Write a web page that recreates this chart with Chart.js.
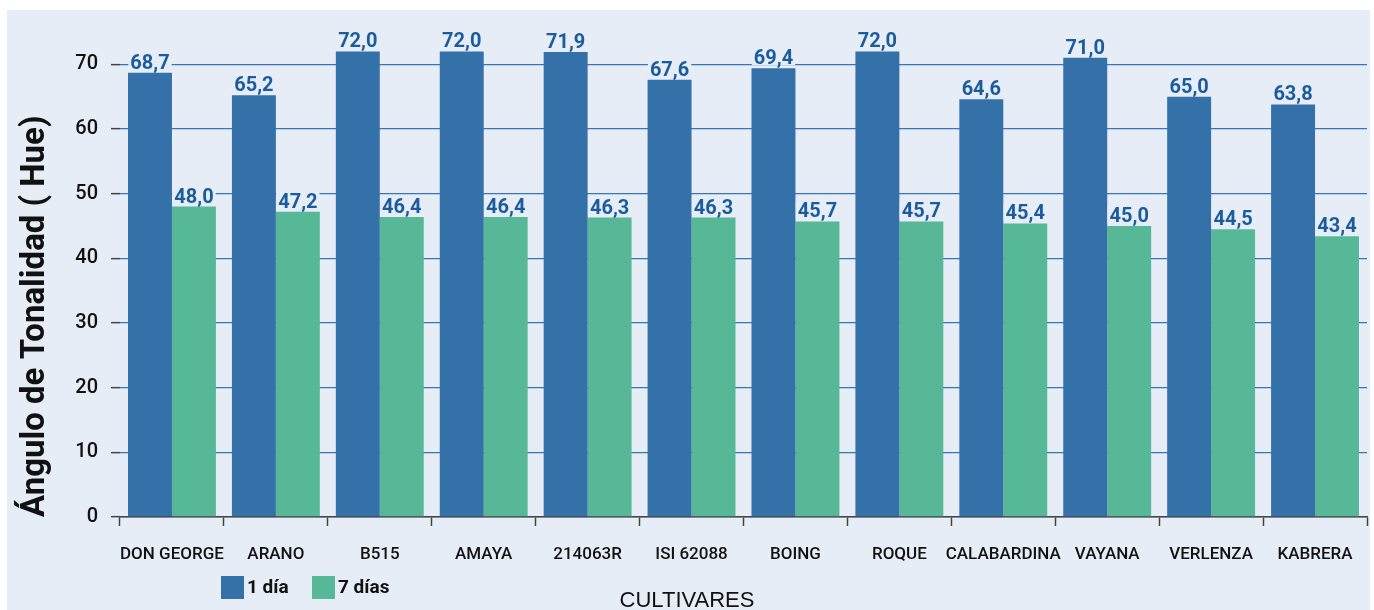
<!DOCTYPE html>
<html>
<head>
<meta charset="utf-8">
<script src="https://cdn.jsdelivr.net/npm/chart.js@4"></script>
<style>
  html, body { margin: 0; padding: 0; background: #ffffff; }
  #wrap { width: 1374px; height: 610px; }
</style>
</head>
<body>
<div id="wrap"><canvas id="chartCanvas" width="1374" height="610"></canvas></div>
<script>
const categories = ['DON GEORGE', 'ARANO', 'B515', 'AMAYA', '214063R', 'ISI 62088',
  'BOING', 'ROQUE', 'CALABARDINA', 'VAYANA', 'VERLENZA', 'KABRERA'];
const dia1 = [68.7, 65.2, 72.0, 72.0, 71.9, 67.6, 69.4, 72.0, 64.6, 71.0, 65.0, 63.8];
const dia7 = [48.0, 47.2, 46.4, 46.4, 46.3, 46.3, 45.7, 45.7, 45.4, 45.0, 44.5, 43.4];
const yTicks = [0, 10, 20, 30, 40, 50, 60, 70];
const seriesNames = ['1 día', '7 días'];

const PANEL = '#e7edf6';

// Hintergrund-Panel
const panelPlugin = {
  id: 'panel',
  beforeDraw(chart) {
    const ctx = chart.ctx;
    ctx.save();
    ctx.fillStyle = PANEL;
    ctx.fillRect(7, 10, 1363, 600);
    ctx.restore();
  }
};

// Werte über den Balken, mit Komma
const valueLabels = {
  id: 'valueLabels',
  afterDatasetsDraw(chart) {
    const ctx = chart.ctx;
    ctx.save();
    ctx.font = 'bold 20px Roboto';
    ctx.textAlign = 'center';
    ctx.textBaseline = 'alphabetic';
    chart.data.datasets.forEach((ds, i) => {
      chart.getDatasetMeta(i).data.forEach((bar, j) => {
        const txt = ds.data[j].toFixed(1).replace('.', ',');
        const w = ctx.measureText(txt).width;
        const y = bar.y - 4;
        ctx.fillStyle = PANEL;
        ctx.fillRect(bar.x - w / 2 - 2, y - 16, w + 4, 17);
        ctx.fillStyle = '#1b5c9e';
        ctx.fillText(txt, bar.x, y);
      });
    });
    ctx.restore();
  }
};

// Legende und Achsentitel unten
const bottomText = {
  id: 'bottomText',
  afterDraw(chart) {
    const ctx = chart.ctx;
    ctx.save();
    let x = 221;
    ctx.font = 'bold 19px Roboto';
    ctx.textBaseline = 'middle';
    chart.data.datasets.forEach((ds) => {
      ctx.fillStyle = ds.backgroundColor;
      ctx.fillRect(x, 576, 23, 23);
      ctx.fillStyle = '#111';
      ctx.textAlign = 'left';
      ctx.fillText(ds.label, x + 26, 588);
      x += 91;
    });
    ctx.font = '22px "Liberation Sans"';
    ctx.textAlign = 'center';
    ctx.textBaseline = 'alphabetic';
    ctx.fillStyle = '#111';
    ctx.fillText('CULTIVARES', 687, 607);
    ctx.restore();
  }
};

new Chart(document.getElementById('chartCanvas').getContext('2d'), {
  type: 'bar',
  data: {
    labels: categories,
    datasets: [
      { label: seriesNames[0], data: dia1, backgroundColor: '#3471a8' },
      { label: seriesNames[1], data: dia7, backgroundColor: '#57b898' }
    ]
  },
  options: {
    responsive: false,
    animation: false,
    layout: { padding: { top: 32, right: 7, left: 0, bottom: 0 } },
    categoryPercentage: 0.846,
    barPercentage: 1.0,
    plugins: { legend: { display: false }, tooltip: { enabled: false } },
    scales: {
      x: {
        offset: true,
        grid: { display: true, drawOnChartArea: false, offset: true, tickLength: 9, tickColor: '#444', tickWidth: 1.5 },
        border: { display: true, color: '#444', width: 1.5 },
        ticks: { color: '#111', font: { family: 'Roboto', size: 17, weight: '500' }, padding: 19, maxRotation: 0, autoSkip: false },
        afterFit(scale) { scale.height = 93; }
      },
      y: {
        min: 0,
        max: 75,
        afterBuildTicks(scale) { scale.ticks = yTicks.map(v => ({ value: v })); },
        grid: { color: '#3476b8', lineWidth: 1.3, tickLength: 9, tickColor: '#444', tickWidth: 1.5 },
        border: { display: false },
        ticks: { color: '#111', font: { family: 'Roboto', size: 20, weight: '500' }, padding: 13 },
        title: {
          display: true,
          text: 'Ángulo de Tonalidad ( Hue)',
          color: '#111',
          align: 'start',
          font: { family: 'Roboto', size: 33, weight: 'bold' },
          padding: { top: 16, bottom: 0 }
        },
        afterFit(scale) { scale.width = 120; }
      }
    }
  },
  plugins: [panelPlugin, valueLabels, bottomText]
});
</script>
</body>
</html>
